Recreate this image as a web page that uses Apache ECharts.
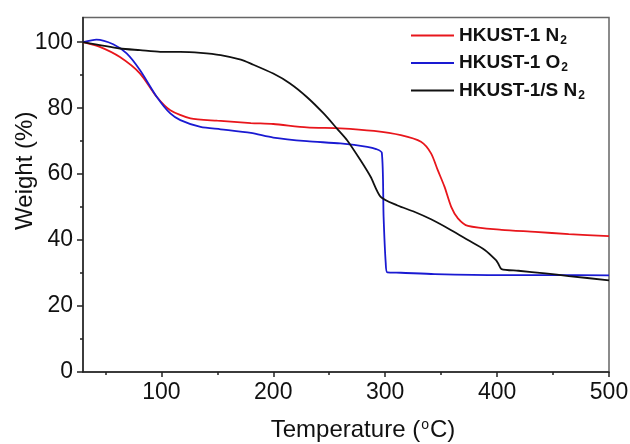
<!DOCTYPE html>
<html>
<head>
<meta charset="utf-8">
<script src="https://cdn.jsdelivr.net/npm/echarts@6/dist/echarts.min.js"></script>
<style>
  html, body { margin: 0; padding: 0; background: #fff; }
  #chart { width: 630px; height: 444px; }
</style>
</head>
<body>
<div id="chart"></div>
<script>
  // TGA curves
  var tempN2 = [30, 45, 63, 81, 96, 108, 126, 150, 180, 200, 230, 260, 290, 314, 332, 341, 347, 353, 359, 365, 374, 404, 434, 464, 500];
  var weightN2 = [100, 98.6, 95.5, 90.5, 83.4, 79.4, 76.9, 76.2, 75.5, 75.2, 74.2, 73.9, 73.1, 71.8, 69.8, 66.3, 61.2, 56.2, 50.1, 46.6, 44.3, 43.1, 42.5, 41.8, 41.2];

  var tempO2 = [30, 42, 57, 69, 81, 96, 108, 117, 135, 153, 180, 200, 230, 260, 284, 292, 297, 298.6, 300.5, 302, 314, 344, 404, 449, 500];
  var weightO2 = [100, 100.8, 99.4, 96.6, 91.5, 83.4, 78.4, 76.4, 74.3, 73.6, 72.5, 71.1, 70, 69.3, 68.3, 67.6, 66.5, 47, 33, 30.2, 30.1, 29.7, 29.4, 29.4, 29.3];

  var tempSN2 = [30, 63, 81, 99, 117, 135, 153, 171, 180, 200, 215, 230, 245, 257, 266, 278, 287, 296, 311, 326, 341, 359, 374, 389, 399, 401, 404, 419, 443, 464, 500];
  var weightSN2 = [100, 98.1, 97.6, 97.1, 97.1, 96.8, 96.1, 94.7, 93.5, 90.5, 87.5, 83.4, 78.4, 73.8, 70.3, 64.2, 59.2, 53.1, 50.5, 48.6, 46.3, 43, 40, 37, 33.9, 32.9, 31.2, 30.7, 29.9, 29.1, 27.8];

  var xLabels = [100, 200, 300, 400, 500];
  var xMinor = [50, 150, 250, 350, 450];
  var yLabels = [0, 20, 40, 60, 80, 100];
  var yMinor = [10, 30, 50, 70, 90];

  var names = ['HKUST-1 N2', 'HKUST-1 O2', 'HKUST-1/S N2'];
  var colors = ['#e8161c', '#1a1ad2', '#111111'];

  function zip(xs, ys) {
    return xs.map(function (x, i) { return [x, ys[i]]; });
  }

  var font = 'Liberation Sans, Arial, sans-serif';
  var chart = echarts.init(document.getElementById('chart'));

  chart.setOption({
    backgroundColor: '#fff',
    animation: false,
    grid: {
      left: 83, right: 21, top: 17.5, bottom: 72,
      outerBoundsMode: 'none',
      show: true, borderColor: '#666', borderWidth: 1.5
    },
    legend: {
      orient: 'vertical',
      left: 411, top: 26,
      padding: 0,
      itemWidth: 43, itemHeight: 2, itemGap: 7,
      icon: 'rect',
      data: names,
      formatter: function (n) {
        var parts = n.split('2');
        return '{b|' + parts[0] + '}{s|2}';
      },
      textStyle: {
        rich: {
          b: { fontSize: 19, fontWeight: 'bold', fontFamily: font, color: '#111', lineHeight: 18 },
          s: { fontSize: 12, fontWeight: 'bold', fontFamily: font, color: '#111', verticalAlign: 'bottom', padding: [10, 0, 0, 1] }
        }
      }
    },
    xAxis: [
      {
        type: 'value', min: 30, max: 500, position: 'bottom',
        splitLine: { show: false },
        axisLine: { lineStyle: { color: '#222', width: 1.5 } },
        axisTick: { customValues: xLabels, length: 5, lineStyle: { color: '#222', width: 1.5 } },
        axisLabel: { customValues: xLabels, color: '#111', fontSize: 23, fontFamily: font, margin: 9 },
        name: '{t|Temperature (}{sup|o}{t|C)}',
        nameLocation: 'middle',
        nameGap: 46,
        nameMoveOverlap: false,
        nameTextStyle: {
          padding: [0, 0, 0, 34],
          rich: {
            t: { fontSize: 24, fontFamily: font, color: '#111' },
            sup: { fontSize: 14, fontFamily: font, color: '#111', verticalAlign: 'top', padding: [0, 1, 8, 1] }
          }
        }
      },
      {
        type: 'value', min: 30, max: 500, position: 'bottom',
        splitLine: { show: false },
        axisLine: { show: false },
        axisLabel: { show: false },
        axisTick: { customValues: xMinor, length: 3, lineStyle: { color: '#222', width: 1.5 } }
      }
    ],
    yAxis: [
      {
        type: 'value', min: 0, max: 107.5, position: 'left',
        splitLine: { show: false },
        axisLine: { show: true, lineStyle: { color: '#222', width: 1.5 } },
        axisTick: { show: true, customValues: yLabels, length: 6, lineStyle: { color: '#222', width: 1.5 } },
        axisLabel: { customValues: yLabels, color: '#111', fontSize: 23, fontFamily: font, margin: 10 },
        name: 'Weight (%)',
        nameLocation: 'middle',
        nameGap: 46,
        nameRotate: 90,
        nameMoveOverlap: false,
        nameTextStyle: { fontSize: 24, fontFamily: font, color: '#111', padding: [0, 0, 0, 48] }
      },
      {
        type: 'value', min: 0, max: 107.5, position: 'left',
        splitLine: { show: false },
        axisLine: { show: false },
        axisLabel: { show: false },
        axisTick: { show: true, customValues: yMinor, length: 3, lineStyle: { color: '#222', width: 1.5 } }
      }
    ],
    series: [
      { name: names[0], type: 'line', data: zip(tempN2, weightN2) },
      { name: names[1], type: 'line', data: zip(tempO2, weightO2) },
      { name: names[2], type: 'line', data: zip(tempSN2, weightSN2) }
    ].map(function (s, i) {
      s.symbol = 'none';
      s.smooth = 0.25;
      s.color = colors[i];
      s.lineStyle = { color: colors[i], width: 1.8 };
      s.xAxisIndex = 0;
      s.yAxisIndex = 0;
      return s;
    })
  });
</script>
</body>
</html>
